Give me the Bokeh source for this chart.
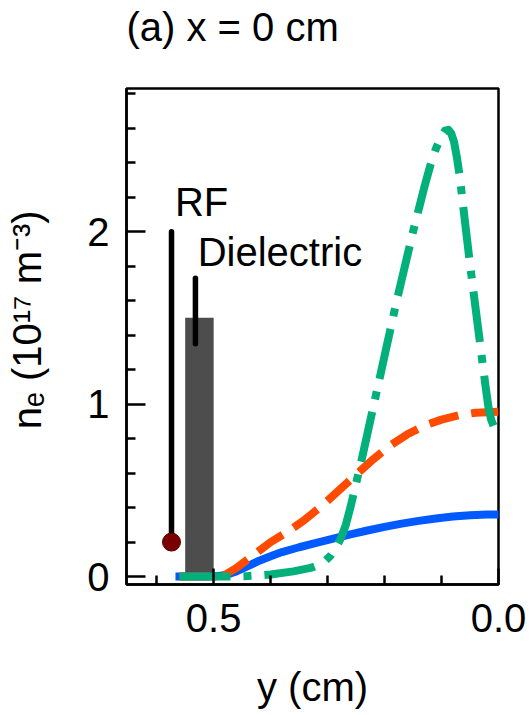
from bokeh.plotting import figure
from bokeh.models import Range1d, FixedTicker
from bokeh.core.properties import value
from bokeh.embed import file_html
from bokeh.resources import INLINE

# ---- data (y position in cm, electron density in 1e17 m^-3) ----
blue_y = [0.56, 0.50, 0.48, 0.46, 0.44, 0.42, 0.40, 0.38, 0.35, 0.32, 0.29, 0.26,
          0.23, 0.20, 0.17, 0.14, 0.11, 0.08, 0.05, 0.02, 0.0]
blue_n = [0.0, 0.0, 0.008, 0.03, 0.06, 0.092, 0.118, 0.142, 0.17, 0.195, 0.22, 0.245,
          0.267, 0.288, 0.307, 0.323, 0.337, 0.348, 0.356, 0.36, 0.36]

orange_y = [0.56, 0.50, 0.48, 0.46, 0.44, 0.42, 0.40, 0.37, 0.34, 0.31, 0.28, 0.25,
            0.22, 0.19, 0.16, 0.13, 0.10, 0.07, 0.04, 0.0]
orange_n = [0.0, 0.0, 0.01, 0.05, 0.10, 0.15, 0.20, 0.26, 0.33, 0.41, 0.50, 0.59,
            0.68, 0.76, 0.825, 0.875, 0.91, 0.935, 0.95, 0.955]

green_y = [0.56, 0.47, 0.44, 0.40, 0.36, 0.33, 0.318, 0.305, 0.295, 0.285, 0.277,
           0.268, 0.26, 0.25, 0.24, 0.23, 0.22, 0.21, 0.20, 0.19, 0.18, 0.17, 0.16,
           0.15, 0.14, 0.13, 0.12, 0.11, 0.10, 0.094, 0.088, 0.083, 0.078, 0.073,
           0.068, 0.06, 0.05, 0.04, 0.03, 0.023, 0.018, 0.013, 0.007, 0.0]
green_n = [0.0, 0.0, 0.003, 0.012, 0.03, 0.05, 0.065, 0.088, 0.12, 0.17, 0.22,
           0.30, 0.40, 0.54, 0.68, 0.83, 0.98, 1.13, 1.28, 1.43, 1.58, 1.72, 1.86,
           2.00, 2.13, 2.26, 2.38, 2.48, 2.555, 2.585, 2.59, 2.57, 2.52, 2.43,
           2.32, 2.09, 1.81, 1.55, 1.29, 1.11, 0.99, 0.91, 0.86, 0.84]

# RF electrode and dielectric markers
rf_pos = [0.574, 0.574]
rf_line_n = [0.2, 2.0]
rf_dot_n = [0.2]
diel_left, diel_right, diel_top = 0.55, 0.50, 1.5
diel_line_pos = [0.532, 0.532]
diel_line_n = [1.35, 1.73]
text_pos = [0.568, 0.528]
text_n = [2.174, 1.884]
text_labels = ["RF", "Dielectric"]

title_text = "(a) x = 0 cm"
y_label = "\u00a0\u00a0\u00a0n\u2091 (10\u00b9\u2077 m\u207b\u00b3)"
x_label = "y (cm)"

x_major = [0.5, 0.0]
x_major_labels = ["0.5", "0.0"]
x_minor = [0.1, 0.2, 0.3, 0.4, 0.6]
y_major = [0, 1, 2]
y_minor = [0.2, 0.4, 0.6, 0.8, 1.2, 1.4, 1.6, 1.8, 2.2, 2.4, 2.6, 2.8]

FONT = "Liberation Sans"

p = figure(width=530, height=715,
           x_range=Range1d(0.653, 0.0), y_range=Range1d(-0.046, 2.83),
           output_backend="svg", toolbar_location=None,
           min_border_left=126, min_border_right=32,
           min_border_top=88, min_border_bottom=131,
           title=title_text)
p.grid.visible = False
p.background_fill_color = "white"
p.border_fill_color = "white"
p.outline_line_color = "black"
p.outline_line_width = 2.5
p.outline_line_alpha = 1.0

p.title.text_font = FONT
p.title.text_font_size = "40px"
p.title.text_font_style = "normal"
p.title.text_color = "black"
p.title.align = "left"
p.title.vertical_align = "bottom"
p.title.standoff = 0
p.title.padding = dict(left=0, right=0, top=0, bottom=40)

p.xaxis.ticker = FixedTicker(ticks=x_major, minor_ticks=x_minor)
p.xaxis.major_label_overrides = {k: v for k, v in zip(x_major, x_major_labels)}
p.yaxis.ticker = FixedTicker(ticks=y_major, minor_ticks=y_minor)
p.xaxis.axis_label = x_label
p.yaxis.axis_label = y_label

for ax in (p.xaxis, p.yaxis):
    ax.axis_line_width = 2.5
    ax.axis_line_color = "black"
    ax.major_tick_line_width = 2.5
    ax.minor_tick_line_width = 2.5
    ax.major_tick_line_color = "black"
    ax.minor_tick_line_color = "black"
    ax.major_tick_out = 0
    ax.minor_tick_out = 0
    ax.minor_tick_in = 9
    ax.major_label_text_font = FONT
    ax.major_label_text_font_size = "40px"
    ax.major_label_text_color = "black"
    ax.axis_label_text_font = FONT
    ax.axis_label_text_font_size = "40px"
    ax.axis_label_text_font_style = "normal"
    ax.axis_label_text_color = "black"
p.xaxis.major_tick_in = 16
p.yaxis.major_tick_in = 19
p.xaxis.major_label_standoff = 19
p.yaxis.major_label_standoff = 17
p.xaxis.axis_label_standoff = 30
p.yaxis.axis_label_standoff = 35

# dielectric block and markers
p.quad(left=[diel_left], right=[diel_right], bottom=[0], top=[diel_top],
       fill_color="#4d4d4d", line_color=None)
p.line(rf_pos, rf_line_n, line_color="black", line_width=5.5, line_cap="round")
p.line(diel_line_pos, diel_line_n, line_color="black", line_width=5.5, line_cap="round")
p.scatter(rf_pos[:1], rf_dot_n, size=18, fill_color="#7a0000", line_color="#5a0000",
          line_width=1)

# density profiles
p.line(blue_y, blue_n, line_color="#005AFF", line_width=8, line_join="round",
       line_cap="square")
p.line(orange_y, orange_n, line_color="#FF4B00", line_width=8, line_join="round",
       line_dash="30 13")
p.line(green_y, green_n, line_color="#03AF7A", line_width=8, line_join="round",
       line_dash="51 13 8 13")

p.text(x=text_pos, y=text_n, text=text_labels, text_font=value(FONT),
       text_font_size="40px", text_color="black", text_baseline="alphabetic",
       text_align="left")

open("out.html", "w").write(file_html(p, INLINE))
